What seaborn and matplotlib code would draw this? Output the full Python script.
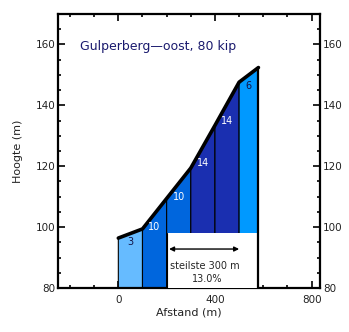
import matplotlib
matplotlib.use("Agg")
import matplotlib.pyplot as plt
from matplotlib.ticker import MultipleLocator
import seaborn as sns
import pandas as pd

# data
afstand = [0, 100, 200, 300, 400, 500, 580]
hoogte = [96.4, 99.4, 109.4, 119.4, 133.4, 147.6, 152.4]
percentages = ["3", "10", "10", "14", "14", "6"]
pct_values = [3, 10, 10, 14, 14, 6]
bar_colors = ["#66BBFF", "#0066DD", "#0066DD", "#1A2FB0", "#1A2FB0", "#0099FF"]
label_colors = ["#111144", "white", "white", "white", "white", "#111144"]
title_text = "Gulperberg\u2014oost, 80 kip"
steilste_text = "steilste 300 m"
steilste_pct = "13.0%"
steilste_start, steilste_end = 200, 500
box_top = 98.0

sns.set_style("ticks")
plt.rcParams['font.family'] = ['DejaVu Sans']

fig = plt.figure(figsize=(3.49, 3.32), dpi=100)
ax = fig.add_axes([0.166, 0.1325, 0.751, 0.8255])

df = pd.DataFrame({"afstand": afstand, "hoogte": hoogte})

for i in range(len(afstand) - 1):
    x0, x1 = afstand[i], afstand[i + 1]
    ax.fill([x0, x0, x1, x1], [80, hoogte[i], hoogte[i + 1], 80],
            facecolor=bar_colors[i], edgecolor="black", linewidth=0.8, zorder=2)

# white box under steepest section
ax.fill([steilste_start, steilste_start, afstand[-1], afstand[-1]],
        [80, box_top, box_top, 80], facecolor="white", edgecolor="none", zorder=3)
ax.plot([steilste_start, steilste_start], [80, box_top], color="black", lw=0.8, zorder=4)
ax.plot([afstand[-1], afstand[-1]], [80, hoogte[-1]], color="black", lw=1.6, zorder=4)

sns.lineplot(data=df, x="afstand", y="hoogte", color="black", linewidth=2.6,
             ax=ax, zorder=5, sort=False)

for i, lab in enumerate(percentages):
    xm = (afstand[i] + afstand[i + 1]) / 2
    ym = (hoogte[i] + hoogte[i + 1]) / 2 - 2 - 0.25 * pct_values[i]
    ax.text(xm, ym, lab, color=label_colors[i], fontsize=7, ha="center",
            va="center", zorder=6)

ax.annotate("", xy=(steilste_end, 92.8), xytext=(steilste_start + 10, 92.8),
            arrowprops=dict(arrowstyle="<|-|>", color="black", lw=1.0,
                            mutation_scale=7, shrinkA=0, shrinkB=0), zorder=6)
ax.text(358, 87.3, steilste_text, fontsize=7, ha="center", va="center", zorder=6)
ax.text(368, 83.0, steilste_pct, fontsize=7, ha="center", va="center", zorder=6)

ax.text(-160, 159.4, title_text, color="#1a1a6e", fontsize=9, ha="left", va="center")

ax.set_xlim(-250, 835)
ax.set_ylim(80, 170)
ax.xaxis.set_major_locator(MultipleLocator(400))
ax.xaxis.set_minor_locator(MultipleLocator(100))
ax.yaxis.set_major_locator(MultipleLocator(20))
ax.yaxis.set_minor_locator(MultipleLocator(5))
ax.tick_params(which="both", direction="in", top=True, right=True,
               labelright=True, labelsize=7.5, width=1.2, colors="black",
               labelcolor="#222222", pad=2)
ax.tick_params(which="major", length=5)
ax.tick_params(which="minor", length=2.5)
ax.tick_params(axis="x", which="major", pad=5)
for s in ax.spines.values():
    s.set_linewidth(1.6)
    s.set_color("black")

ax.set_xlabel("Afstand (m)", fontsize=8, labelpad=2, color="#222222")
ax.set_ylabel("Hoogte (m)", fontsize=8, labelpad=9, color="#222222")

fig.savefig("out.png", dpi=100)
